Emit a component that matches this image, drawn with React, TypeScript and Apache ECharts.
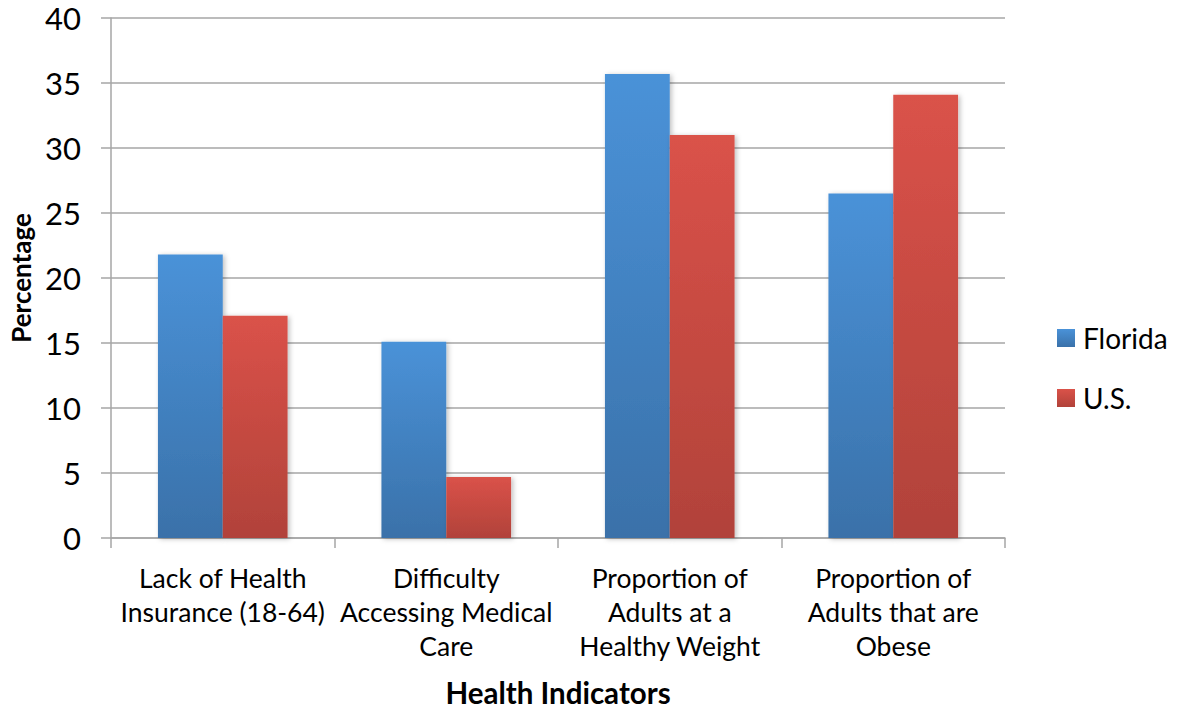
import React, { useEffect, useRef } from "react";
import * as echarts from "echarts";

const categories = [
  "Lack of Health\nInsurance (18-64)",
  "Difficulty\nAccessing Medical\nCare",
  "Proportion of\nAdults at a\nHealthy Weight",
  "Proportion of\nAdults that are\nObese",
];
const floridaValues = [21.8, 15.1, 35.7, 26.5];
const usValues = [17.1, 4.7, 31.0, 34.1];
const seriesNames = ["Florida", "U.S."];
const yTicks = { min: 0, max: 40, interval: 5 };

const FONT = "Lato, 'Open Sans', 'Liberation Sans', sans-serif";

export default function App() {
  const ref = useRef<HTMLDivElement>(null);
  useEffect(() => {
    if (!ref.current) return;
    const chart = echarts.init(ref.current, null, { renderer: "svg" });
    const blue = new echarts.graphic.LinearGradient(0, 0, 0, 1, [
      { offset: 0, color: "#4A92D8" },
      { offset: 1, color: "#3A71A9" },
    ]);
    const red = new echarts.graphic.LinearGradient(0, 0, 0, 1, [
      { offset: 0, color: "#DA5249" },
      { offset: 1, color: "#B1423A" },
    ]);
    const shadow = {
      shadowBlur: 5,
      shadowOffsetX: 2,
      shadowOffsetY: 1,
      shadowColor: "rgba(0,0,0,0.25)",
    };
    chart.setOption({
      animation: false,
      backgroundColor: "#ffffff",
      textStyle: { fontFamily: FONT },
      grid: { left: 111, right: 172, top: 18, bottom: 170, containLabel: false },
      legend: {
        orient: "vertical",
        left: 1052,
        top: 318,
        padding: 5,
        itemWidth: 18,
        itemHeight: 18,
        itemGap: 30,
        icon: "rect",
        data: [
          { name: seriesNames[0], itemStyle: { color: blue } },
          { name: seriesNames[1], itemStyle: { color: red } },
        ],
        textStyle: {
          fontSize: 28,
          lineHeight: 30,
          color: "#000",
          fontFamily: FONT,
          padding: [0, 0, 0, 3],
        },
      },
      xAxis: {
        type: "category",
        data: categories,
        axisLine: { lineStyle: { color: "#A6A6A6", width: 1.5 } },
        axisTick: { show: true, length: 10, lineStyle: { color: "#A6A6A6", width: 1.5 } },
        axisLabel: {
          interval: 0,
          margin: 23,
          fontSize: 26.5,
          lineHeight: 34,
          color: "#000",
          fontFamily: FONT,
          align: "center",
          verticalAlign: "top",
        },
        splitLine: { show: false },
      },
      yAxis: {
        type: "value",
        min: yTicks.min,
        max: yTicks.max,
        interval: yTicks.interval,
        axisLine: { show: true, lineStyle: { color: "#A6A6A6", width: 1.5 } },
        axisTick: { show: true, length: 10, lineStyle: { color: "#A6A6A6", width: 1.5 } },
        axisLabel: { fontSize: 31, color: "#000", margin: 30, fontFamily: FONT },
        splitLine: { lineStyle: { color: "#A6A6A6", width: 1.5 } },
      },
      series: [
        {
          name: seriesNames[0],
          type: "bar",
          data: floridaValues,
          barGap: "0%",
          barCategoryGap: "42%",
          itemStyle: { color: blue, ...shadow },
        },
        {
          name: seriesNames[1],
          type: "bar",
          data: usValues,
          barGap: "0%",
          barCategoryGap: "42%",
          itemStyle: { color: red, ...shadow },
        },
      ],
      graphic: [
        {
          type: "text",
          x: 558,
          y: 692,
          style: {
            text: "Health Indicators",
            fontSize: 29.5,
            lineHeight: 26,
            fontWeight: "bold",
            fill: "#000",
            fontFamily: FONT,
            align: "center",
            verticalAlign: "middle",
          },
        },
        {
          type: "text",
          x: 21,
          y: 278,
          rotation: Math.PI / 2,
          style: {
            text: "Percentage",
            fontSize: 26,
            fontWeight: "bold",
            fill: "#000",
            fontFamily: FONT,
            align: "center",
            verticalAlign: "middle",
          },
        },
      ],
    });
    return () => chart.dispose();
  }, []);
  return (
    <div
      ref={ref}
      style={{ position: "fixed", left: 0, top: 0, width: 1177, height: 708 }}
    />
  );
}
